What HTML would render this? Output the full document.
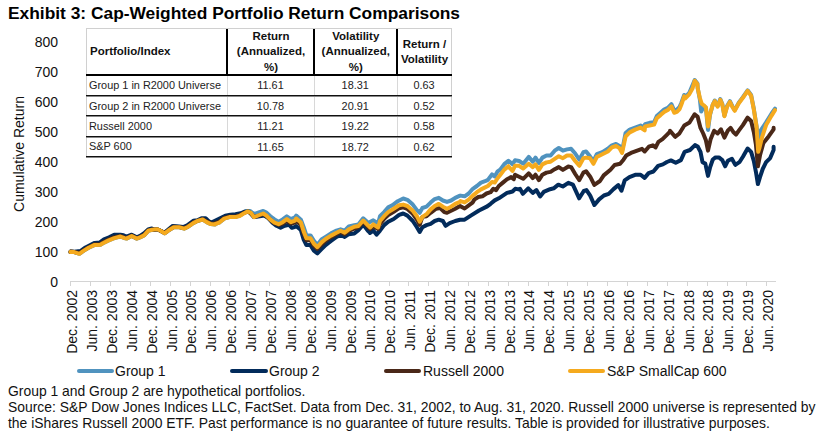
<!DOCTYPE html>
<html><head><meta charset="utf-8"><style>
html,body{margin:0;padding:0;background:#fff;}
body{width:821px;height:439px;position:relative;overflow:hidden;font-family:"Liberation Sans",sans-serif;color:#000;}
.title{position:absolute;left:8px;top:3px;font-size:17.36px;font-weight:bold;white-space:nowrap;line-height:21px;}
.yl{position:absolute;right:763px;font-size:14px;line-height:16px;text-align:right;white-space:nowrap;color:#111;}
.ytitle{position:absolute;left:-81px;top:145.5px;width:200px;text-align:center;font-size:14px;line-height:16px;transform:rotate(-90deg);white-space:nowrap;color:#111;}
.xl{position:absolute;top:381.5px;width:200px;height:16px;font-size:14px;line-height:16px;text-align:right;transform:rotate(-90deg);white-space:nowrap;color:#111;}
svg{position:absolute;left:0;top:0;}
.leg{position:absolute;top:363px;font-size:14px;line-height:16px;white-space:nowrap;color:#111;}
.sw{position:absolute;top:369px;height:4px;border-radius:2px;}
.foot{position:absolute;left:8px;font-size:13.9px;line-height:16px;white-space:nowrap;color:#111;}
</style></head><body>
<div class="title">Exhibit 3: Cap-Weighted Portfolio Return Comparisons</div>
<div class="yl" style="top:274.2px">0</div><div class="yl" style="top:244.2px">100</div><div class="yl" style="top:214.2px">200</div><div class="yl" style="top:184.2px">300</div><div class="yl" style="top:154.2px">400</div><div class="yl" style="top:124.2px">500</div><div class="yl" style="top:94.2px">600</div><div class="yl" style="top:64.2px">700</div><div class="yl" style="top:34.2px">800</div>
<div class="ytitle">Cumulative Return</div>
<svg width="821" height="439" viewBox="0 0 821 439">
<line x1="70" y1="281.5" x2="776" y2="281.5" stroke="#d4d4d4" stroke-width="1"/>
<g stroke="#d4d4d4" stroke-width="1"><line x1="70.5" y1="281" x2="70.5" y2="286"/><line x1="90.5" y1="281" x2="90.5" y2="286"/><line x1="110.5" y1="281" x2="110.5" y2="286"/><line x1="130.5" y1="281" x2="130.5" y2="286"/><line x1="150.5" y1="281" x2="150.5" y2="286"/><line x1="170.5" y1="281" x2="170.5" y2="286"/><line x1="190.5" y1="281" x2="190.5" y2="286"/><line x1="210.5" y1="281" x2="210.5" y2="286"/><line x1="229.5" y1="281" x2="229.5" y2="286"/><line x1="249.5" y1="281" x2="249.5" y2="286"/><line x1="269.5" y1="281" x2="269.5" y2="286"/><line x1="289.5" y1="281" x2="289.5" y2="286"/><line x1="309.5" y1="281" x2="309.5" y2="286"/><line x1="329.5" y1="281" x2="329.5" y2="286"/><line x1="349.5" y1="281" x2="349.5" y2="286"/><line x1="369.5" y1="281" x2="369.5" y2="286"/><line x1="389.5" y1="281" x2="389.5" y2="286"/><line x1="408.5" y1="281" x2="408.5" y2="286"/><line x1="428.5" y1="281" x2="428.5" y2="286"/><line x1="448.5" y1="281" x2="448.5" y2="286"/><line x1="468.5" y1="281" x2="468.5" y2="286"/><line x1="488.5" y1="281" x2="488.5" y2="286"/><line x1="508.5" y1="281" x2="508.5" y2="286"/><line x1="528.5" y1="281" x2="528.5" y2="286"/><line x1="548.5" y1="281" x2="548.5" y2="286"/><line x1="567.5" y1="281" x2="567.5" y2="286"/><line x1="587.5" y1="281" x2="587.5" y2="286"/><line x1="607.5" y1="281" x2="607.5" y2="286"/><line x1="627.5" y1="281" x2="627.5" y2="286"/><line x1="647.5" y1="281" x2="647.5" y2="286"/><line x1="667.5" y1="281" x2="667.5" y2="286"/><line x1="687.5" y1="281" x2="687.5" y2="286"/><line x1="707.5" y1="281" x2="707.5" y2="286"/><line x1="727.5" y1="281" x2="727.5" y2="286"/><line x1="746.5" y1="281" x2="746.5" y2="286"/><line x1="766.5" y1="281" x2="766.5" y2="286"/></g>
<g fill="none" stroke-width="4.0" stroke-linejoin="round" stroke-linecap="round">
<polyline stroke="#5093BF" points="70.5,252.0 70.6,251.7 74.2,252.1 79.4,253.8 83.5,250.9 88.6,247.8 94.7,244.9 100.4,244.7 102.9,243.2 108.1,240.6 114.2,238.1 120.4,236.5 124.5,238.1 126.5,238.6 131.7,236.0 136.8,238.6 140.0,237.4 144.1,235.4 148.2,230.8 152.3,229.7 157.4,229.2 160.5,230.8 164.6,233.3 168.7,230.3 173.8,227.2 179.0,227.2 184.1,228.7 188.2,226.7 193.3,223.1 197.4,221.0 202.6,219.5 206.7,222.1 210.8,224.1 214.9,224.6 215.0,224.2 219.1,222.7 224.2,218.6 229.4,217.1 235.5,217.1 241.7,214.5 245.8,210.9 249.9,210.9 254.0,214.0 258.1,212.6 263.2,210.9 266.3,212.6 270.4,216.3 274.5,219.4 278.6,221.7 282.7,219.4 286.8,216.3 290.9,219.1 295.0,217.4 296.2,215.6 300.9,219.7 303.7,227.2 306.4,235.4 310.5,235.4 313.9,240.9 317.4,245.0 321.5,239.5 325.6,236.8 331.0,233.4 336.5,230.6 340.6,229.3 344.7,230.6 348.8,226.5 354.3,225.2 358.4,224.5 363.2,218.3 367.9,222.4 368.5,222.7 373.3,220.3 378.1,223.5 380.0,216.2 384.1,212.1 388.2,207.4 392.3,205.3 397.8,201.2 403.2,198.5 407.4,199.8 412.8,204.6 416.9,210.1 419.7,212.8 422.4,208.0 426.5,206.7 430.6,202.6 434.7,199.1 438.8,197.8 442.9,200.5 447.0,201.9 451.1,200.5 455.2,197.8 460.0,195.7 460.5,195.6 464.6,196.3 468.7,193.5 472.8,188.8 476.9,186.0 481.0,182.6 485.1,181.2 487.9,179.9 492.0,174.4 494.7,176.5 497.4,171.7 500.2,169.6 504.3,164.1 508.4,160.7 512.5,164.1 515.0,160.3 519.1,161.0 523.2,163.7 528.7,156.9 532.8,161.7 535.5,157.6 538.9,163.0 542.4,157.6 546.5,155.5 550.6,155.5 554.7,150.7 558.8,148.0 562.9,150.7 567.0,149.4 571.1,148.7 575.2,153.5 579.3,159.6 583.4,152.1 586.1,151.4 590.0,156.3 593.4,161.1 596.8,154.2 602.3,152.2 607.8,148.8 611.9,145.3 616.0,144.0 619.4,146.0 622.1,150.8 625.6,133.0 629.7,129.6 635.1,127.6 640.6,125.5 644.7,127.6 645.0,124.2 649.6,122.8 654.1,122.3 656.8,116.0 660.5,112.8 664.1,109.6 667.8,107.8 671.4,104.1 674.2,110.5 676.9,109.6 679.6,106.9 681.4,102.8 684.2,95.0 685.1,97.1 689.2,93.0 694.7,80.0 697.4,83.5 697.7,88.2 699.8,99.1 701.2,111.5 703.9,106.0 705.9,108.0 708.0,129.9 710.0,114.9 712.8,104.6 714.8,100.5 717.6,106.0 720.3,99.1 722.3,103.9 724.4,115.6 727.1,106.0 729.9,101.2 732.6,106.7 734.7,110.1 738.8,102.6 742.9,97.1 747.6,90.3 751.1,95.0 753.8,108.7 756.5,125.8 758.2,140.2 760.6,130.6 766.1,122.4 771.6,113.5 775.0,108.7"/>
<polyline stroke="#022B5B" points="70.5,252.0 70.6,251.4 74.2,251.7 80.4,251.1 85.5,247.5 94.7,242.9 99.9,242.4 104.0,239.3 109.1,237.3 114.2,234.7 120.4,234.7 123.5,235.2 126.5,236.7 131.7,234.7 136.8,237.3 140.0,235.9 144.1,233.3 148.2,229.5 151.8,228.5 154.4,230.1 157.4,229.5 164.6,232.6 172.8,225.9 179.0,226.5 183.1,227.0 187.2,225.4 193.3,220.8 197.4,220.3 201.5,218.3 205.6,218.3 208.7,221.3 211.8,222.4 215.0,220.9 220.1,218.4 225.3,215.8 230.4,214.8 235.5,214.3 240.6,213.3 244.7,211.7 248.8,211.6 254.0,217.1 258.1,216.5 264.2,215.5 268.3,218.1 272.4,222.7 276.5,225.8 280.6,227.8 284.7,225.8 288.8,224.7 291.9,227.8 295.0,226.8 296.2,226.0 300.9,230.1 303.7,239.7 306.4,245.1 310.5,245.1 313.9,250.6 317.4,253.3 321.5,249.2 325.6,245.1 331.0,241.0 336.5,236.9 340.6,234.9 344.7,236.9 348.8,234.2 354.3,233.5 358.4,230.1 363.2,224.6 367.9,230.8 370.0,232.8 370.1,233.0 373.3,230.6 376.5,234.6 380.0,230.6 384.1,225.1 388.2,221.7 393.7,219.0 399.1,214.9 403.2,213.5 407.4,215.6 412.8,221.0 416.9,227.2 419.7,232.0 422.4,227.2 426.5,225.1 430.6,223.8 434.7,221.0 438.8,219.7 442.9,221.0 445.6,225.8 449.7,223.1 455.2,221.0 460.0,219.7 464.6,219.7 470.8,215.6 479.0,210.5 487.2,206.4 490.6,203.8 494.7,200.4 498.8,198.3 502.9,195.6 507.0,192.9 509.7,192.2 512.5,191.5 515.2,188.8 518.6,189.4 520.0,188.8 522.8,193.8 528.2,188.3 532.8,192.9 536.4,190.1 540.1,196.5 543.7,191.9 550.1,189.2 553.7,188.3 558.3,184.7 562.8,186.5 568.3,182.8 572.9,184.7 579.2,198.3 583.8,191.0 586.5,190.1 590.2,195.6 593.8,203.8 594.4,205.0 599.1,199.4 603.9,195.5 608.7,193.9 613.5,189.1 618.3,185.1 621.5,190.7 624.7,180.3 629.4,177.1 635.8,174.7 640.6,174.7 644.6,177.9 648.6,173.1 653.4,171.5 658.1,165.9 662.9,164.4 666.9,162.0 670.9,160.4 675.7,162.8 680.9,160.1 684.6,151.9 690.0,150.0 695.0,145.1 697.7,146.5 700.5,151.9 702.5,162.2 705.3,163.6 708.0,175.9 710.0,167.7 712.8,159.5 715.5,157.4 718.9,157.4 722.3,160.1 725.1,166.3 727.8,160.8 731.9,158.8 735.3,164.9 739.4,162.2 742.9,156.7 747.6,148.5 751.1,151.9 753.8,160.8 755.9,171.8 757.9,184.1 760.0,177.2 762.7,169.0 766.1,162.2 770.2,158.1 773.6,149.9 773.6,146.8"/>
<polyline stroke="#4A2818" points="70.5,252.0 70.6,251.6 74.2,252.0 79.4,253.0 83.5,250.3 88.6,247.3 94.7,244.3 100.4,243.9 102.9,242.3 108.1,239.7 114.2,237.1 120.4,236.0 124.5,237.4 126.5,238.0 131.7,235.6 136.8,238.2 140.0,237.0 144.1,234.8 148.2,230.4 152.3,229.5 157.4,229.3 160.5,230.8 164.6,233.1 168.7,230.0 173.8,226.8 179.0,227.0 184.1,228.1 188.2,226.1 193.3,222.4 197.4,220.8 202.6,219.1 206.7,221.2 210.8,223.5 214.9,223.5 215.0,223.2 219.1,221.6 224.2,217.9 229.4,216.4 235.5,216.2 239.6,215.3 243.7,213.1 247.8,211.5 250.9,213.2 254.0,217.1 258.1,215.8 263.2,214.1 266.3,215.9 270.4,219.8 274.5,223.2 278.6,225.0 282.7,223.6 286.8,220.9 290.9,223.6 295.0,222.5 296.2,220.7 300.9,224.8 303.7,233.9 306.4,240.3 310.5,240.3 313.9,245.8 317.4,249.0 321.5,244.4 325.6,240.8 331.0,237.2 336.5,234.1 340.6,232.0 344.7,234.1 348.8,230.8 354.3,228.7 358.4,227.2 363.2,221.7 367.9,226.9 370.0,229.0 370.1,229.1 373.3,226.2 378.1,229.1 380.0,223.9 384.1,218.9 388.2,215.0 393.7,211.8 399.1,208.2 403.2,207.3 407.4,208.9 412.8,213.8 416.9,219.5 419.7,224.8 422.4,216.9 426.5,216.2 430.6,212.8 436.1,208.7 440.2,208.0 444.3,212.1 447.0,212.8 451.1,210.8 455.2,208.7 460.0,206.0 464.6,208.5 472.8,202.3 474.2,199.7 478.3,197.0 482.4,196.3 486.5,193.5 490.6,192.2 493.3,188.8 496.1,190.1 498.8,186.0 502.9,182.6 507.0,179.2 511.1,177.1 513.8,179.2 515.0,174.7 519.1,176.7 523.2,178.8 528.7,173.3 532.8,178.1 535.5,174.7 538.9,180.1 542.4,174.7 546.5,172.6 550.6,171.9 554.7,169.2 558.8,167.1 562.9,169.9 568.3,166.5 571.1,167.1 575.2,174.0 579.3,180.1 583.4,172.6 586.1,171.2 590.2,176.7 594.3,184.9 600.0,181.0 603.7,175.4 610.5,169.7 614.6,165.0 620.1,163.8 623.5,159.7 626.2,155.6 631.0,152.9 636.5,150.8 642.0,148.8 644.7,151.5 648.8,146.7 652.9,145.3 655.6,147.4 658.4,141.9 662.5,139.2 666.6,135.1 670.0,131.7 670.0,130.7 675.1,136.8 679.2,133.7 684.3,125.5 689.5,122.5 694.6,114.3 697.7,116.9 700.5,127.9 703.2,133.5 705.9,140.3 708.0,150.6 710.7,138.9 714.1,130.7 717.6,133.5 721.0,129.4 724.4,137.6 727.8,130.7 730.6,127.9 733.3,132.0 736.0,134.7 738.8,130.6 742.9,125.1 747.6,117.6 751.1,121.0 753.8,132.0 755.9,144.4 757.9,166.3 760.0,155.3 763.4,143.0 768.8,136.2 773.6,129.4 773.6,127.7"/>
<polyline stroke="#F5AA1E" points="70.5,252.0 70.6,251.7 74.2,252.1 79.4,253.8 83.5,250.9 88.6,247.8 94.7,244.9 100.4,244.7 102.9,243.2 108.1,240.6 114.2,238.1 120.4,236.5 124.5,238.1 126.5,238.6 131.7,236.0 136.8,238.6 140.0,237.4 144.1,235.4 148.2,230.8 152.3,229.7 157.4,229.2 160.5,230.8 164.6,233.3 168.7,230.3 173.8,227.2 179.0,227.2 184.1,228.7 188.2,226.7 193.3,223.1 197.4,221.0 202.6,219.5 206.7,222.1 210.8,224.1 214.9,224.6 215.0,224.2 219.1,222.7 224.2,218.6 229.4,217.1 235.5,217.1 239.6,216.0 243.7,213.5 247.8,211.4 250.9,212.9 254.0,217.1 258.1,215.5 263.2,213.5 266.3,215.5 270.4,219.6 274.5,222.7 278.6,224.2 282.7,222.2 286.8,219.1 290.9,222.2 295.0,220.6 296.2,218.5 300.9,222.6 303.7,231.5 306.4,238.3 310.5,238.3 313.9,243.8 317.4,247.2 321.5,242.4 325.6,239.0 331.0,235.6 336.5,232.8 340.6,230.8 344.7,232.8 348.8,229.4 354.3,226.7 358.4,226.0 363.2,220.5 367.9,225.3 370.0,227.4 370.1,227.5 373.3,224.3 378.1,227.5 380.0,221.0 384.1,216.2 388.2,212.1 393.7,208.7 399.1,205.3 403.2,204.6 407.4,206.0 412.8,210.8 416.9,216.2 419.7,221.7 422.4,216.9 426.5,214.2 430.6,209.4 434.7,206.0 438.8,203.9 442.9,206.7 447.0,208.7 451.1,206.7 455.2,203.9 460.0,201.9 460.5,201.1 464.6,202.4 468.7,199.7 472.8,195.6 476.9,192.2 481.0,189.4 485.1,187.4 487.9,186.0 492.0,181.9 494.7,182.6 497.4,178.5 500.2,175.1 504.3,169.6 508.4,166.2 512.5,171.0 515.0,165.8 519.1,165.8 523.2,168.5 528.7,163.7 532.8,167.1 535.5,164.4 538.9,169.9 542.4,164.4 546.5,162.4 550.6,161.7 554.7,158.9 558.8,156.2 562.9,158.2 567.0,155.5 571.1,155.5 575.2,161.0 579.3,165.8 583.4,158.2 586.1,157.6 590.0,158.3 593.4,163.8 596.8,157.0 602.3,154.2 607.8,151.5 611.9,147.4 616.0,146.0 619.4,148.1 622.1,152.9 625.6,136.5 629.7,132.4 635.1,129.6 640.6,127.6 644.7,130.3 645.0,126.4 649.6,125.5 654.1,124.6 656.8,118.2 660.5,115.1 664.1,111.9 667.8,110.0 671.4,106.4 674.2,112.8 676.9,111.9 679.6,109.1 681.4,104.6 684.2,96.4 685.1,98.5 689.2,94.4 692.6,88.2 694.7,80.7 697.4,84.1 697.7,88.2 699.8,97.8 701.8,103.9 703.9,105.3 705.9,107.3 708.0,126.5 710.0,114.2 712.8,104.6 714.8,101.2 717.6,106.7 720.3,99.8 722.3,104.6 724.4,116.2 727.1,106.7 729.9,101.9 732.6,107.3 734.7,110.8 738.8,103.2 742.9,97.8 747.6,90.9 751.1,95.7 753.8,109.4 756.5,126.5 758.2,151.8 759.3,148.4 762.0,137.4 766.1,125.1 771.6,115.6 775.0,110.1"/>
</g>
</svg>
<div class="xl" style="left:-27.9px;">Dec. 2002</div><div class="xl" style="left:-8.0px;">Jun. 2003</div><div class="xl" style="left:11.9px;">Dec. 2003</div><div class="xl" style="left:31.7px;">Jun. 2004</div><div class="xl" style="left:51.6px;">Dec. 2004</div><div class="xl" style="left:71.5px;">Jun. 2005</div><div class="xl" style="left:91.4px;">Dec. 2005</div><div class="xl" style="left:111.3px;">Jun. 2006</div><div class="xl" style="left:131.2px;">Dec. 2006</div><div class="xl" style="left:151.0px;">Jun. 2007</div><div class="xl" style="left:170.9px;">Dec. 2007</div><div class="xl" style="left:190.8px;">Jun. 2008</div><div class="xl" style="left:210.7px;">Dec. 2008</div><div class="xl" style="left:230.6px;">Jun. 2009</div><div class="xl" style="left:250.5px;">Dec. 2009</div><div class="xl" style="left:270.3px;">Jun. 2010</div><div class="xl" style="left:290.2px;">Dec. 2010</div><div class="xl" style="left:310.1px;">Jun. 2011</div><div class="xl" style="left:330.0px;">Dec. 2011</div><div class="xl" style="left:349.9px;">Jun. 2012</div><div class="xl" style="left:369.8px;">Dec. 2012</div><div class="xl" style="left:389.6px;">Jun. 2013</div><div class="xl" style="left:409.5px;">Dec. 2013</div><div class="xl" style="left:429.4px;">Jun. 2014</div><div class="xl" style="left:449.3px;">Dec. 2014</div><div class="xl" style="left:469.2px;">Jun. 2015</div><div class="xl" style="left:489.1px;">Dec. 2015</div><div class="xl" style="left:508.9px;">Jun. 2016</div><div class="xl" style="left:528.8px;">Dec. 2016</div><div class="xl" style="left:548.7px;">Jun. 2017</div><div class="xl" style="left:568.6px;">Dec. 2017</div><div class="xl" style="left:588.5px;">Jun. 2018</div><div class="xl" style="left:608.4px;">Dec. 2018</div><div class="xl" style="left:628.2px;">Jun. 2019</div><div class="xl" style="left:648.1px;">Dec. 2019</div><div class="xl" style="left:668.0px;">Jun. 2020</div>
<div class="sw" style="left:77px;width:37px;background:#5093BF"></div><div class="leg" style="left:115px">Group 1</div>
<div class="sw" style="left:230px;width:38px;background:#022B5B"></div><div class="leg" style="left:269px">Group 2</div>
<div class="sw" style="left:384px;width:37px;background:#4A2818"></div><div class="leg" style="left:423px">Russell 2000</div>
<div class="sw" style="left:568px;width:37px;background:#F5AA1E"></div><div class="leg" style="left:607px">S&amp;P SmallCap 600</div>
<div class="foot" style="top:383px">Group 1 and Group 2 are hypothetical portfolios.</div>
<div class="foot" style="top:399px">Source: S&amp;P Dow Jones Indices LLC, FactSet. Data from Dec. 31, 2002, to Aug. 31, 2020. Russell 2000 universe is represented by</div>
<div class="foot" style="top:415px">the iShares Russell 2000 ETF. Past performance is no guarantee of future results. Table is provided for illustrative purposes.</div>
<div style="position:absolute;left:86px;top:28px;width:366px;height:128px;background:#fff"></div>
<div style="position:absolute;left:86px;top:28px;width:366px;height:1px;background:#d0d0d0"></div>
<div style="position:absolute;left:86px;top:28px;width:1px;height:128px;background:#d0d0d0"></div>
<div style="position:absolute;left:451px;top:28px;width:1px;height:128px;background:#d0d0d0"></div>
<div style="position:absolute;left:227.0px;top:75px;width:1px;height:81px;background:#d8d8d8"></div>
<div style="position:absolute;left:314.0px;top:75px;width:1px;height:81px;background:#d8d8d8"></div>
<div style="position:absolute;left:396.5px;top:75px;width:1px;height:81px;background:#d8d8d8"></div>
<div style="position:absolute;left:226.0px;top:29px;width:2px;height:46px;background:#000"></div>
<div style="position:absolute;left:313.0px;top:29px;width:2px;height:46px;background:#000"></div>
<div style="position:absolute;left:395.5px;top:29px;width:2px;height:46px;background:#000"></div>
<div style="position:absolute;left:86px;top:73.5px;width:366px;height:2px;background:#000"></div>
<div style="position:absolute;left:86px;top:95px;width:366px;height:1px;background:#111"></div>
<div style="position:absolute;left:86px;top:96px;width:366px;height:1px;background:#888"></div>
<div style="position:absolute;left:86px;top:115px;width:366px;height:1px;background:#111"></div>
<div style="position:absolute;left:86px;top:116px;width:366px;height:1px;background:#888"></div>
<div style="position:absolute;left:86px;top:136px;width:366px;height:1px;background:#111"></div>
<div style="position:absolute;left:86px;top:137px;width:366px;height:1px;background:#888"></div>
<div style="position:absolute;left:86px;top:156px;width:366px;height:1px;background:#111"></div>
<div style="position:absolute;left:86px;top:157px;width:366px;height:1px;background:#888"></div>
<div style="position:absolute;left:89px;top:28px;width:138px;height:46px;display:flex;align-items:center;font-weight:bold;font-size:11.5px;line-height:15.3px;color:#111;text-align:left;padding:2px 0 0 1px;box-sizing:border-box;"><div style="width:100%">Portfolio/Index</div></div>
<div style="position:absolute;left:227px;top:28px;width:87px;height:46px;display:flex;align-items:center;font-weight:bold;font-size:11.5px;line-height:15.3px;color:#111;text-align:center;padding:2px 0 0 1px;box-sizing:border-box;"><div style="width:100%">Return<br>(Annualized,<br>%)</div></div>
<div style="position:absolute;left:314px;top:28px;width:82.5px;height:46px;display:flex;align-items:center;font-weight:bold;font-size:11.5px;line-height:15.3px;color:#111;text-align:center;padding:2px 0 0 1px;box-sizing:border-box;"><div style="width:100%">Volatility<br>(Annualized,<br>%)</div></div>
<div style="position:absolute;left:396.5px;top:28px;width:55.0px;height:46px;display:flex;align-items:center;font-weight:bold;font-size:11.5px;line-height:15.3px;color:#111;text-align:center;padding:2px 0 0 1px;box-sizing:border-box;"><div style="width:100%">Return /<br>Volatility</div></div>
<div style="position:absolute;left:89px;top:74.5px;width:138px;height:20.799999999999997px;display:flex;align-items:center;font-size:10.9px;line-height:13px;color:#222;padding-top:1.5px;box-sizing:border-box;text-align:left;"><div style="width:100%">Group 1 in R2000 Universe</div></div>
<div style="position:absolute;left:227px;top:74.5px;width:87px;height:20.799999999999997px;display:flex;align-items:center;font-size:10.9px;line-height:13px;color:#222;padding-top:1.5px;box-sizing:border-box;text-align:center;"><div style="width:100%">11.61</div></div>
<div style="position:absolute;left:314px;top:74.5px;width:82.5px;height:20.799999999999997px;display:flex;align-items:center;font-size:10.9px;line-height:13px;color:#222;padding-top:1.5px;box-sizing:border-box;text-align:center;"><div style="width:100%">18.31</div></div>
<div style="position:absolute;left:396.5px;top:74.5px;width:55.0px;height:20.799999999999997px;display:flex;align-items:center;font-size:10.9px;line-height:13px;color:#222;padding-top:1.5px;box-sizing:border-box;text-align:center;"><div style="width:100%">0.63</div></div>
<div style="position:absolute;left:89px;top:95.3px;width:138px;height:20.200000000000003px;display:flex;align-items:center;font-size:10.9px;line-height:13px;color:#222;padding-top:1.5px;box-sizing:border-box;text-align:left;"><div style="width:100%">Group 2 in R2000 Universe</div></div>
<div style="position:absolute;left:227px;top:95.3px;width:87px;height:20.200000000000003px;display:flex;align-items:center;font-size:10.9px;line-height:13px;color:#222;padding-top:1.5px;box-sizing:border-box;text-align:center;"><div style="width:100%">10.78</div></div>
<div style="position:absolute;left:314px;top:95.3px;width:82.5px;height:20.200000000000003px;display:flex;align-items:center;font-size:10.9px;line-height:13px;color:#222;padding-top:1.5px;box-sizing:border-box;text-align:center;"><div style="width:100%">20.91</div></div>
<div style="position:absolute;left:396.5px;top:95.3px;width:55.0px;height:20.200000000000003px;display:flex;align-items:center;font-size:10.9px;line-height:13px;color:#222;padding-top:1.5px;box-sizing:border-box;text-align:center;"><div style="width:100%">0.52</div></div>
<div style="position:absolute;left:89px;top:115.5px;width:138px;height:20.5px;display:flex;align-items:center;font-size:10.9px;line-height:13px;color:#222;padding-top:1.5px;box-sizing:border-box;text-align:left;"><div style="width:100%">Russell 2000</div></div>
<div style="position:absolute;left:227px;top:115.5px;width:87px;height:20.5px;display:flex;align-items:center;font-size:10.9px;line-height:13px;color:#222;padding-top:1.5px;box-sizing:border-box;text-align:center;"><div style="width:100%">11.21</div></div>
<div style="position:absolute;left:314px;top:115.5px;width:82.5px;height:20.5px;display:flex;align-items:center;font-size:10.9px;line-height:13px;color:#222;padding-top:1.5px;box-sizing:border-box;text-align:center;"><div style="width:100%">19.22</div></div>
<div style="position:absolute;left:396.5px;top:115.5px;width:55.0px;height:20.5px;display:flex;align-items:center;font-size:10.9px;line-height:13px;color:#222;padding-top:1.5px;box-sizing:border-box;text-align:center;"><div style="width:100%">0.58</div></div>
<div style="position:absolute;left:89px;top:136px;width:138px;height:20.099999999999994px;display:flex;align-items:center;font-size:10.9px;line-height:13px;color:#222;padding-top:1.5px;box-sizing:border-box;text-align:left;"><div style="width:100%">S&amp;P 600</div></div>
<div style="position:absolute;left:227px;top:136px;width:87px;height:20.099999999999994px;display:flex;align-items:center;font-size:10.9px;line-height:13px;color:#222;padding-top:3.5px;box-sizing:border-box;text-align:center;"><div style="width:100%">11.65</div></div>
<div style="position:absolute;left:314px;top:136px;width:82.5px;height:20.099999999999994px;display:flex;align-items:center;font-size:10.9px;line-height:13px;color:#222;padding-top:3.5px;box-sizing:border-box;text-align:center;"><div style="width:100%">18.72</div></div>
<div style="position:absolute;left:396.5px;top:136px;width:55.0px;height:20.099999999999994px;display:flex;align-items:center;font-size:10.9px;line-height:13px;color:#222;padding-top:3.5px;box-sizing:border-box;text-align:center;"><div style="width:100%">0.62</div></div>
</body></html>
